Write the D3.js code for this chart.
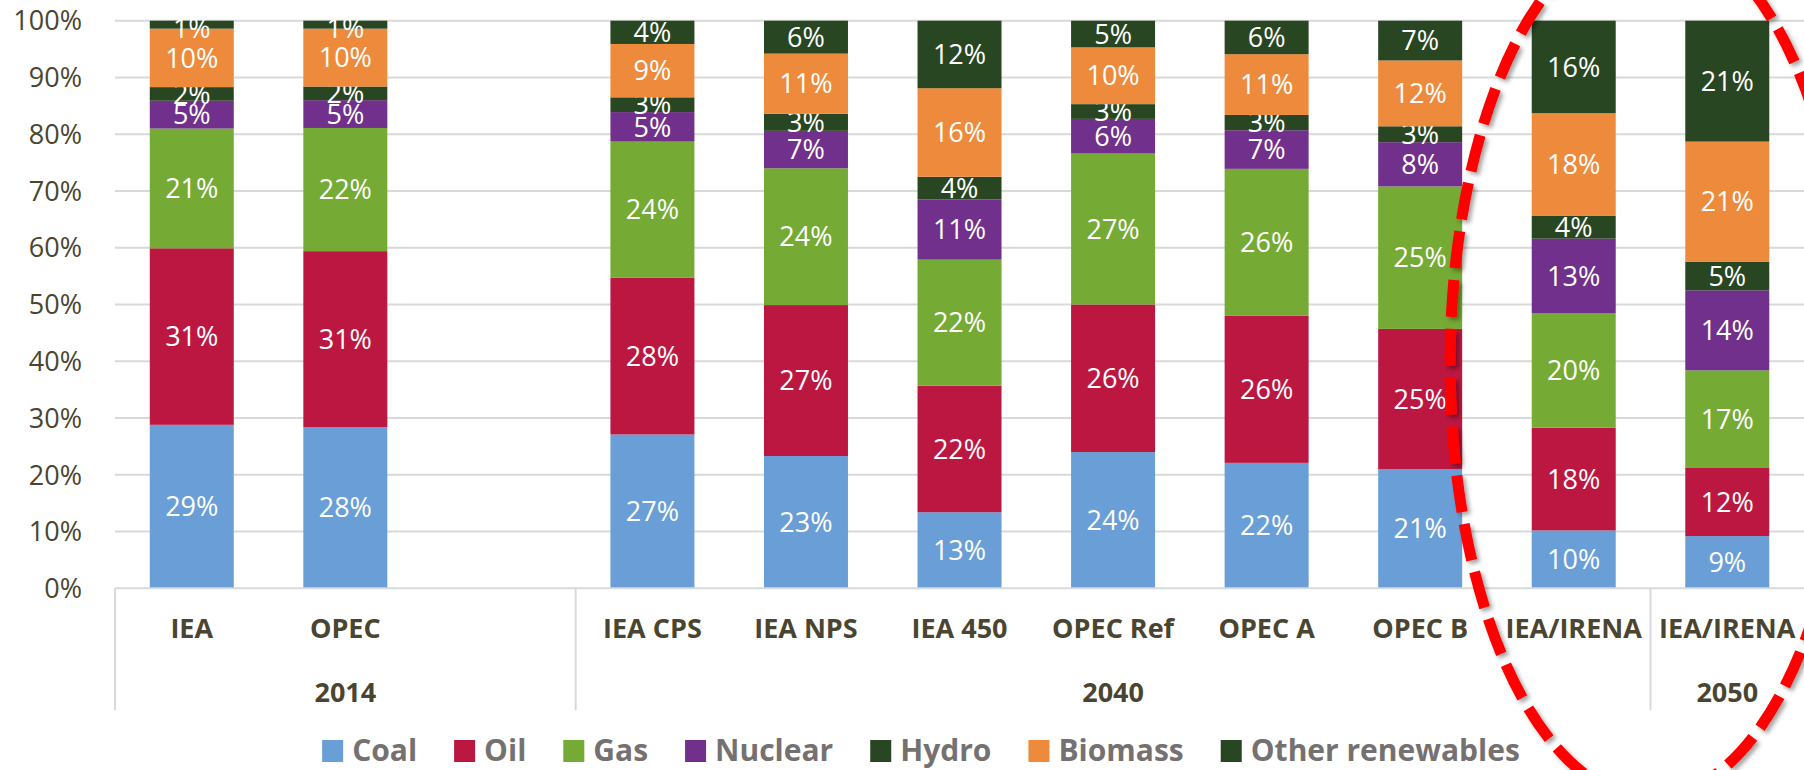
<!DOCTYPE html>
<html>
<head>
<meta charset="utf-8">
<script src="https://cdn.jsdelivr.net/npm/d3@7/dist/d3.min.js"></script>
<style>
  body { margin: 0; background: #fff; }
  svg text { font-family: "Open Sans", Lato, sans-serif; }
</style>
</head>
<body>
<div id="chart"></div>
<script>
///// DATOS /////
const categories = ['IEA', 'OPEC', '', 'IEA CPS', 'IEA NPS', 'IEA 450', 'OPEC Ref', 'OPEC A', 'OPEC B', 'IEA/IRENA', 'IEA/IRENA'];
const years = ['2014', '2014', '2014', '2040', '2040', '2040', '2040', '2040', '2040', '2040', '2050'];

const seriesNames = ['Coal', 'Oil', 'Gas', 'Nuclear', 'Hydro', 'Biomass', 'Other renewables'];
const seriesColors = ['#699ed6', '#bc1741', '#75aa35', '#70308b', '#294622', '#ed8a3b', '#294622'];

const coal       = [28.8, 28.4, null, 27.1, 23.3, 13.4, 24.0, 22.1, 21.0, 10.2, 9.2];
const oil        = [31.1, 31.0, null, 27.6, 26.6, 22.3, 26.0, 25.9, 24.7, 18.1, 12.0];
const gas        = [21.1, 21.7, null, 24.0, 24.1, 22.2, 26.6, 25.9, 25.1, 20.2, 17.2];
const nuclear    = [4.9, 4.9, null, 5.2, 6.6, 10.6, 6.1, 6.8, 7.8, 13.1, 14.1];
const hydro      = [2.4, 2.4, null, 2.6, 3.0, 4.0, 2.6, 2.7, 2.8, 4.0, 5.0];
const biomass    = [10.3, 10.2, null, 9.4, 10.6, 15.6, 10.0, 10.7, 11.6, 18.1, 21.2];
const otherRenew = [1.4, 1.4, null, 4.1, 5.8, 11.9, 4.7, 5.9, 7.0, 16.3, 21.3];

const yTicks = [0, 10, 20, 30, 40, 50, 60, 70, 80, 90, 100];

const seriesValues = [coal, oil, gas, nuclear, hydro, biomass, otherRenew];

///// GRÁFICO /////
const W = 1804, H = 770;
const margin = {top: 20.7, left: 115, bottom: 182};
const plotRight = margin.left + 11 * 153.55;
const plotBottom = H - margin.bottom + 0.3;

const textDark = '#4a4530';
const gridColor = '#d9d9d9';

const svg = d3.select('#chart').append('svg')
    .attr('width', W)
    .attr('height', H);

let defs = svg.append('defs');
defs.append('filter')
    .attr('id', 'shadow')
    .attr('x', '-20%').attr('y', '-20%').attr('width', '140%').attr('height', '140%')
    .append('feDropShadow')
    .attr('dx', 3).attr('dy', 3).attr('stdDeviation', 2)
    .attr('flood-color', '#000').attr('flood-opacity', 0.35);

// Eje X
let x = d3.scaleBand()
    .domain(d3.range(categories.length))
    .range([margin.left, plotRight])
    .padding(0);

let barW = x.bandwidth() * 0.547;

// Eje Y
let y = d3.scaleLinear()
    .domain([0, 100])
    .range([plotBottom, margin.top]);

// Rejilla
svg.append('g')
    .selectAll('line')
    .data(yTicks.filter(d => d > 0))
    .join('line')
    .attr('x1', margin.left)
    .attr('x2', plotRight)
    .attr('y1', d => y(d))
    .attr('y2', d => y(d))
    .attr('stroke', gridColor)
    .attr('stroke-width', 2);

svg.append('g')
    .selectAll('text')
    .data(yTicks)
    .join('text')
    .attr('x', 82)
    .attr('y', d => y(d))
    .attr('dy', '0.36em')
    .attr('text-anchor', 'end')
    .attr('font-size', 27)
    .attr('fill', textDark)
    .text(d => d + '%');

// Barras apiladas
let rows = categories.map((c, i) => {
    let r = {i: i};
    seriesNames.forEach((s, j) => { r[s] = seriesValues[j][i] || 0; });
    return r;
}).filter(r => coal[r.i] != null);

let stacked = d3.stack().keys(seriesNames)(rows);

let layers = svg.append('g')
    .selectAll('g')
    .data(stacked)
    .join('g')
    .attr('fill', (d, i) => seriesColors[i]);

layers.selectAll('rect')
    .data(d => d)
    .join('rect')
    .attr('x', d => x(d.data.i) + (x.bandwidth() - barW) / 2)
    .attr('width', barW)
    .attr('y', d => y(d[1]))
    .attr('height', d => y(d[0]) - y(d[1]));

// Etiquetas de datos
layers.selectAll('text')
    .data(d => d)
    .join('text')
    .attr('x', d => x(d.data.i) + x.bandwidth() / 2)
    .attr('y', d => Math.max((y(d[0]) + y(d[1])) / 2, margin.top + 8))
    .attr('dy', '0.36em')
    .attr('text-anchor', 'middle')
    .attr('font-size', 27)
    .attr('fill', '#fff')
    .text(d => Math.round(d[1] - d[0]) + '%');

// Eje de categorías (dos niveles)
svg.append('line')
    .attr('x1', margin.left).attr('x2', plotRight)
    .attr('y1', plotBottom).attr('y2', plotBottom)
    .attr('stroke', gridColor).attr('stroke-width', 2);

let yearGroups = [];
years.forEach((yr, i) => {
    let last = yearGroups[yearGroups.length - 1];
    if (last && last.year == yr) { last.end = i; }
    else { yearGroups.push({year: yr, start: i, end: i}); }
});

let sepX = [margin.left].concat(yearGroups.slice(1).map(g => x(g.start)));
svg.append('g')
    .selectAll('line')
    .data(sepX)
    .join('line')
    .attr('x1', d => d).attr('x2', d => d)
    .attr('y1', plotBottom).attr('y2', plotBottom + 122)
    .attr('stroke', gridColor).attr('stroke-width', 2);

svg.append('g')
    .selectAll('text')
    .data(categories.map((c, i) => ({c: c, i: i})).filter(d => d.c != ''))
    .join('text')
    .attr('x', d => x(d.i) + x.bandwidth() / 2)
    .attr('y', plotBottom + 50)
    .attr('text-anchor', 'middle')
    .attr('font-size', 27)
    .attr('font-weight', 'bold')
    .attr('fill', textDark)
    .text(d => d.c);

svg.append('g')
    .selectAll('text')
    .data(yearGroups)
    .join('text')
    .attr('x', d => (x(d.start) + x(d.end) + x.bandwidth()) / 2)
    .attr('y', plotBottom + 114)
    .attr('text-anchor', 'middle')
    .attr('font-size', 27)
    .attr('font-weight', 'bold')
    .attr('fill', textDark)
    .text(d => d.year);

// Leyenda
let legend = svg.append('g');
let lx = 0;
let legendGap = 37;
seriesNames.forEach((s, i) => {
    let item = legend.append('g').attr('transform', 'translate(' + lx + ',0)');
    item.append('rect')
        .attr('x', 0).attr('y', 740)
        .attr('width', 21).attr('height', 22)
        .attr('fill', seriesColors[i]);
    let t = item.append('text')
        .attr('x', 30).attr('y', 761)
        .attr('font-size', 30)
        .attr('font-weight', 'bold')
        .attr('fill', '#767171')
        .text(s);
    lx += 30 + t.node().getComputedTextLength() + legendGap;
});
lx -= legendGap;
legend.attr('transform', 'translate(' + (921 - lx / 2) + ',0)');

// Elipse roja de resalte (IEA/IRENA)
svg.append('ellipse')
    .attr('cx', x(categories.length - 1))
    .attr('cy', y(39.5))
    .attr('rx', x.bandwidth() * 1.305)
    .attr('ry', y(0) - y(76.5))
    .attr('fill', 'none')
    .attr('stroke', '#ff0000')
    .attr('stroke-width', 11)
    .attr('stroke-dasharray', '37 12')
    .attr('filter', 'url(#shadow)');
</script>
</body>
</html>
